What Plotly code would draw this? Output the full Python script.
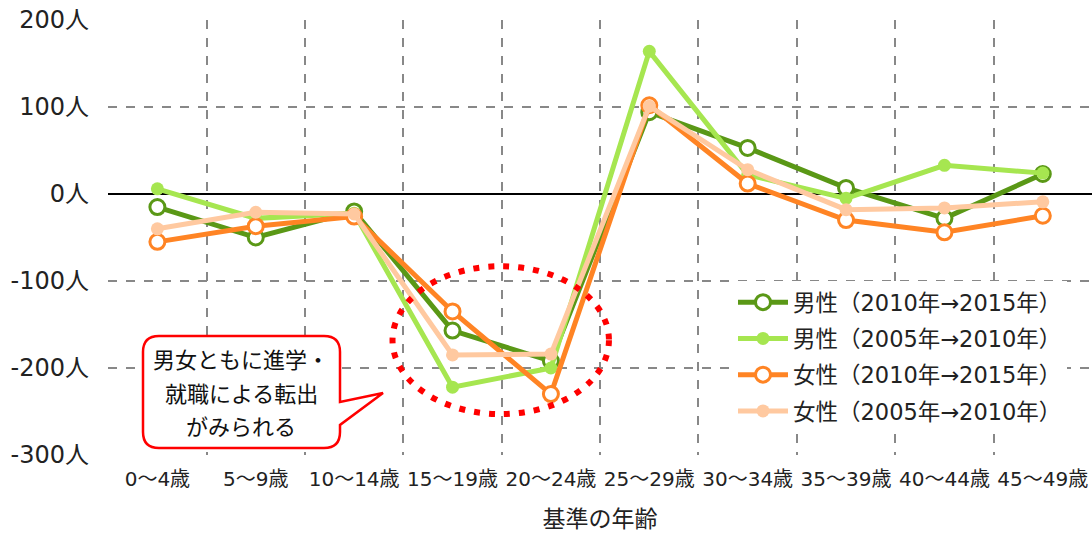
import plotly.graph_objects as go

categories = ["0～4歳", "5～9歳", "10～14歳", "15～19歳", "20～24歳",
              "25～29歳", "30～34歳", "35～39歳", "40～44歳", "45～49歳"]
male_2010_2015 = [-15, -50, -20, -157, -192, 94, 53, 7, -28, 23]
male_2005_2010 = [6, -28, -22, -222, -200, 164, 22, -5, 33, 24]
female_2010_2015 = [-55, -37, -26, -135, -230, 102, 12, -30, -44, -25]
female_2005_2010 = [-40, -21, -23, -185, -184, 101, 28, -18, -16, -9]
y_ticks = [200, 100, 0, -100, -200, -300]
y_tick_text = ["200人", "100人", "0人", "-100人", "-200人", "-300人"]
callout_lines = ["男女ともに進学・", "就職による転出", "がみられる"]

W, H = 1092, 535
ML, MR, MT, MB = 108, 0, 20, 80
PW, PH = W - ML - MR, H - MT - MB
FONT = "Noto Sans CJK JP"
NUMFONT = "DejaVu Sans, Noto Sans CJK JP"

def px(x):
    return (x - ML) / PW

def py(y):
    return (H - MB - y) / PH

idx = list(range(len(categories)))
bounds = [i - 0.5 for i in range(len(categories) + 1)]

fig = go.Figure()

series = [
    ("男性（2010年→2015年）", male_2010_2015, "#5A9816", True),
    ("男性（2005年→2010年）", male_2005_2010, "#A6E650", False),
    ("女性（2010年→2015年）", female_2010_2015, "#FF8424", True),
    ("女性（2005年→2010年）", female_2005_2010, "#FFC9A0", False),
]
for i, (name, vals, col, hollow) in enumerate(series):
    if hollow:
        marker = dict(symbol="circle", size=15, color="white", line=dict(color=col, width=3))
    else:
        marker = dict(symbol="circle", size=13, color=col, line=dict(color=col, width=0))
    fig.add_trace(go.Scatter(
        x=idx, y=vals, name=name, mode="lines+markers",
        line=dict(color=col, width=5), marker=marker,
        legendgroup=f"g{i}",
    ))

# dotted ellipse highlight
fig.add_shape(type="circle", xref="x", yref="y",
              x0=2.39, x1=4.59, y0=-253, y1=-83,
              line=dict(color="#FF0000", width=6, dash="6px,9px"), layer="above")

# callout bubble
bx0, bx1, by0, by1, r = 143, 340, 336, 448, 16
def P(x, y):
    return f"{px(x):.5f},{py(y):.5f}"
path = (
    f"M {P(bx0 + r, by0)} L {P(bx1 - r, by0)} Q {P(bx1, by0)} {P(bx1, by0 + r)} "
    f"L {P(bx1, 402)} L {P(383, 393)} L {P(bx1, 425)} "
    f"L {P(bx1, by1 - r)} Q {P(bx1, by1)} {P(bx1 - r, by1)} "
    f"L {P(bx0 + r, by1)} Q {P(bx0, by1)} {P(bx0, by1 - r)} "
    f"L {P(bx0, by0 + r)} Q {P(bx0, by0)} {P(bx0 + r, by0)} Z"
)
fig.add_shape(type="path", xref="paper", yref="paper", path=path,
              fillcolor="white", line=dict(color="#FF0000", width=2.5), layer="above")
for line_text, ypix in zip(callout_lines, [358, 392, 425]):
    fig.add_annotation(xref="paper", yref="paper", x=px(241), y=py(ypix),
                       text=line_text, showarrow=False, xanchor="center", yanchor="middle",
                       font=dict(family=FONT, size=22, color="#111111"))

fig.update_layout(
    width=W, height=H,
    margin=dict(l=ML, r=MR, t=MT, b=MB),
    paper_bgcolor="white", plot_bgcolor="white",
    font=dict(family=NUMFONT, color="#222222"),
    showlegend=True,
    legend=dict(x=px(733), y=py(281), xanchor="left", yanchor="top",
                bgcolor="white", font=dict(family=NUMFONT, size=22.5, color="#222222"),
                tracegroupgap=4, itemwidth=50, traceorder="grouped"),
    xaxis=dict(range=[-0.502, 9.5], tickvals=idx, ticktext=categories,
               showgrid=False, ticks="", showline=False, zeroline=False,
               minor=dict(tickvals=bounds, showgrid=True, gridcolor="#888888",
                          griddash="dash", gridwidth=1.5, ticks=""),
               tickfont=dict(family=NUMFONT, size=20, color="#222222"),
               ticklabelstandoff=10,
               title=dict(text="基準の年齢", font=dict(family=FONT, size=23, color="#222222"), standoff=20)),
    yaxis=dict(range=[-300, 200], tickvals=y_ticks, ticktext=y_tick_text,
               showgrid=True, gridcolor="#888888", griddash="dash", gridwidth=1.5,
               zeroline=True, zerolinecolor="black", zerolinewidth=2,
               showline=False, ticks="",
               tickfont=dict(family=NUMFONT, size=24, color="#222222"),
               ticklabelstandoff=18),
)

fig.write_html("out.html")
